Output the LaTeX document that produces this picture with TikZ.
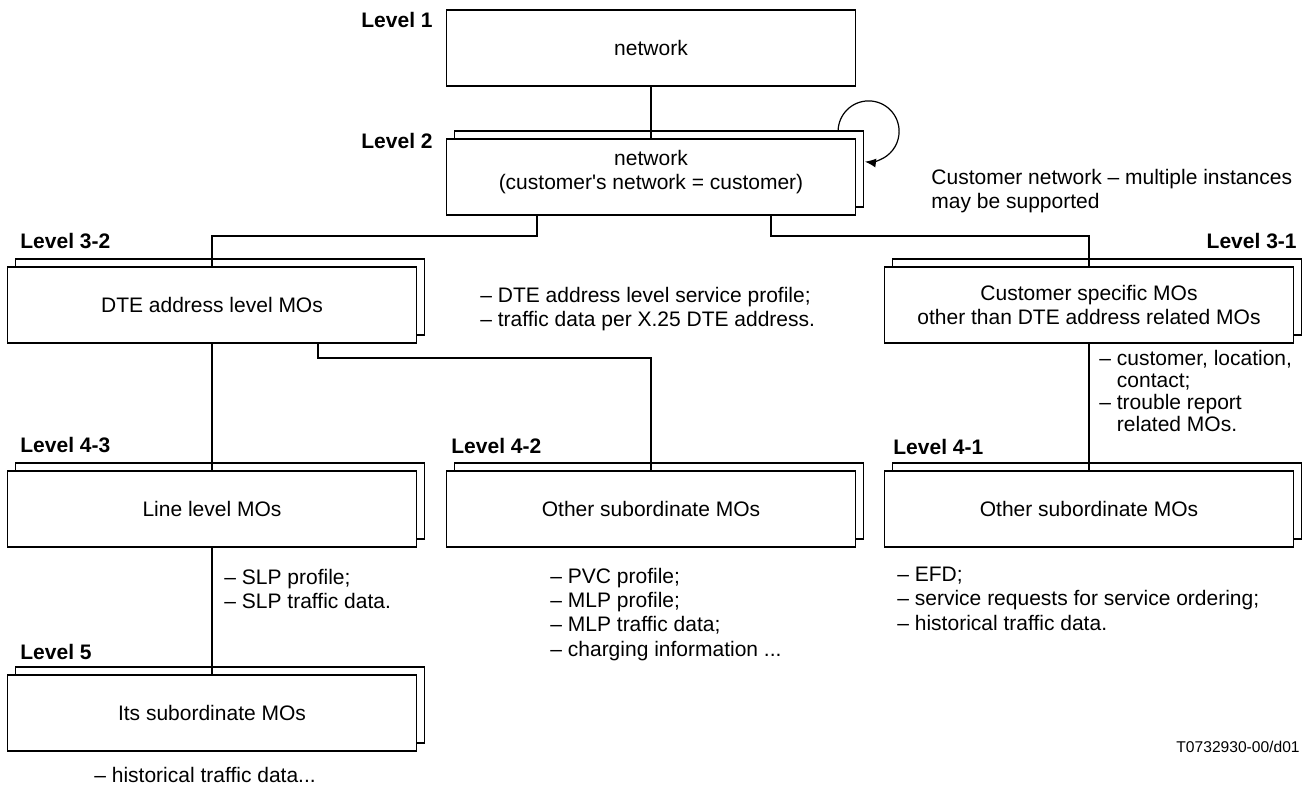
\documentclass[tikz,border=0pt]{standalone}
\usepackage{fontspec}
\setmainfont{Liberation Sans}
\usetikzlibrary{shadows,arrows.meta}
\begin{document}
\begin{tikzpicture}[x=0.5pt, y=-0.5pt, font=\fontsize{10.5}{12.2}\selectfont]
      \tikzset{mobox/.style={draw, line width=0.6pt, fill=white, inner sep=0pt, minimum width=204.5pt, minimum height=38pt, align=center},
               stacked/.style={mobox, copy shadow={shadow xshift=4pt, shadow yshift=4pt, draw=black, fill=white, line width=0.6pt}},
               level/.style={font=\fontsize{10.5}{12.2}\selectfont\bfseries, inner sep=0pt},
               note/.style={align=left, inner sep=0pt, anchor=north west}}
      \useasboundingbox (0,0) rectangle (1310,787);
%% Boxes
      	\node[mobox] (l1) at (651,48) {network};
      	\node[stacked] (l2) at (651,177) {network\\(customer\textquotesingle s network = customer)\\[-5pt]\mbox{}};
      	\node[stacked] (l32) at (212,305) {DTE address level MOs};
      	\node[stacked] (l31) at (1089,305) {Customer specific MOs\\other than DTE address related MOs};
      	\node[stacked] (l43) at (212,509) {Line level MOs};
      	\node[stacked] (l42) at (651,509) {Other subordinate MOs};
      	\node[stacked] (l41) at (1089,509) {Other subordinate MOs};
      	\node[stacked] (l5) at (212,713) {Its subordinate MOs};
%% Levels
      	\node[level, anchor=base east] (lv1) at (433,27) {Level 1};
      	\node[level, anchor=base east] (lv2) at (433,148) {Level 2};
      	\node[level, anchor=base west] (lv32) at (20,248) {Level 3-2};
      	\node[level, anchor=base east] (lv31) at (1297,248) {Level 3-1};
      	\node[level, anchor=base west] (lv43) at (20,452) {Level 4-3};
      	\node[level, anchor=base west] (lv42) at (451,453) {Level 4-2};
      	\node[level, anchor=base west] (lv41) at (893,454) {Level 4-1};
      	\node[level, anchor=base west] (lv5) at (20,659) {Level 5};
%% Notes
      	\node[note] (multi) at (931,168.5) {Customer network -- multiple instances\\may be supported};
      	\node[note] (dtelist) at (480,286.5) {-- DTE address level service profile;\\-- traffic data per X.25 DTE address.};
      	\node[note, font=\fontsize{10.5}{11}\selectfont] (custlist) at (1099,349.5) {-- customer, location,\\\hphantom{-- }contact;\\-- trouble report\\\hphantom{-- }related MOs.};
      	\node[note] (slplist) at (224,568.5) {-- SLP profile;\\-- SLP traffic data.};
      	\node[note] (pvclist) at (550,567.5) {-- PVC profile;\\-- MLP profile;\\-- MLP traffic data;\\-- charging information ...};
      	\node[note] (efdlist) at (897,566.5) {-- EFD;\\-- service requests for service ordering;\\-- historical traffic data.};
      	\node[note] (histlist) at (94,766.5) {-- historical traffic data...};
      	\node[inner sep=0pt, anchor=north east, font=\fontsize{7.8}{9}\selectfont] (figid) at (1300,740.5) {T0732930-00/d01};
%Connectors
      	\coordinate (j2l) at (537,236);
      	\coordinate (j2r) at (771,236);
      	\coordinate (j3) at (318,358);
		\path[line width=1pt] (l1) edge (l2);
		\path[line width=1pt] (l32) edge (l43);
		\path[line width=1pt] (l43) edge (l5);
		\path[line width=1pt] (l31) edge (l41);
		\draw[line width=0.6pt] (l2.south -| j2l) -- (j2l) -| (l32.north);
		\draw[line width=0.6pt] (l2.south -| j2r) -- (j2r) -| (l31.north);
		\draw[line width=0.6pt] (l32.south -| j3) -- (j3) -| (l42.north);
		\draw[->, >={Latex[length=5.5pt, width=4.5pt]}, line width=0.6pt] ([shift={(-9pt,3.5pt)}]l2.north east) arc[start angle=180, end angle=-97, radius=15.25pt];
	\end{tikzpicture}
\end{document}
